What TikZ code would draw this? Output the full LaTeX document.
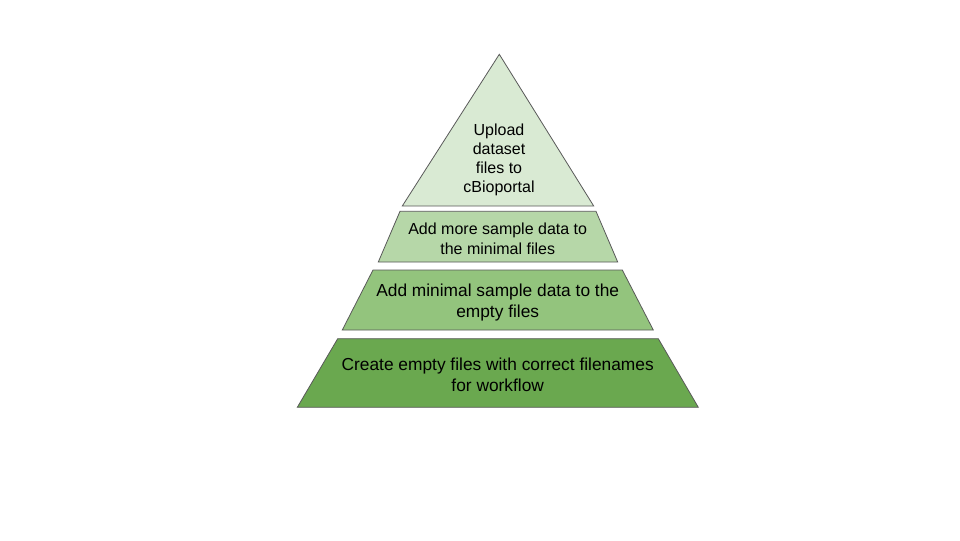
\documentclass[tikz,border=0pt]{standalone}
\usepackage{fontspec}
\setmainfont{Liberation Sans}
\definecolor{lvlA}{HTML}{D9EAD3}
\definecolor{lvlB}{HTML}{B6D7A8}
\definecolor{lvlC}{HTML}{93C47D}
\definecolor{lvlD}{HTML}{6AA84F}
\definecolor{edge}{HTML}{595959}
\begin{document}
\begin{tikzpicture}[x=0.75pt,y=-0.75pt,
  layer/.style={draw=edge,line width=0.6pt,line join=miter},
  lbl/.style={align=center,inner sep=0pt,font=\fontsize{12}{14.4}\selectfont,text=black},
  lblbig/.style={lbl,font=\fontsize{13}{15.6}\selectfont}]
\useasboundingbox (0,0) rectangle (960,540);
\fill[white] (0,0) rectangle (960,540);
\path[layer,fill=lvlA] (499.3,54.3) -- (593.7,206) -- (402.3,206) -- cycle;
\path[layer,fill=lvlB] (400,211.3) -- (596,211.3) -- (617.7,262) -- (378.3,262) -- cycle;
\path[layer,fill=lvlC] (373,270) -- (622.3,270) -- (653.3,330) -- (342.3,330) -- cycle;
\path[layer,fill=lvlD] (337.7,338.7) -- (658.3,338.7) -- (698.3,407.3) -- (297.3,407.3) -- cycle;
\node[lbl] (top) at (499,160) {Upload\\dataset\\files to\\cBioportal};
\node[lbl] (more) at (497.7,238.8) {Add more sample data to\\the minimal files};
\node[lblbig] (minimal) at (497.7,302.7) {Add minimal sample data to the\\empty files};
\node[lblbig] (create) at (497.7,375) {Create empty files with correct filenames\\for workflow};
\end{tikzpicture}
\end{document}
